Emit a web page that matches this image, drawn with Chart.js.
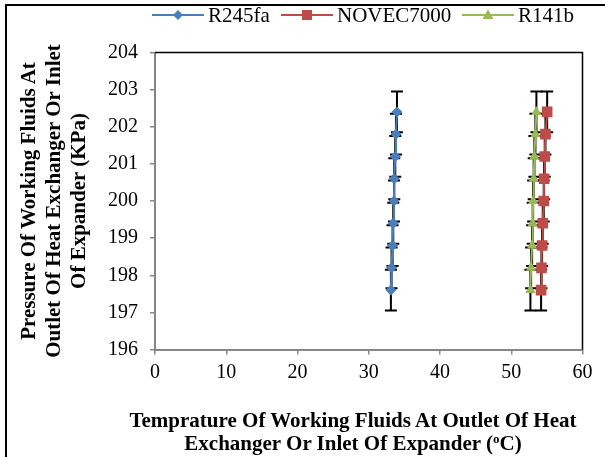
<!DOCTYPE html>
<html>
<head>
<meta charset="utf-8">
<script src="https://cdn.jsdelivr.net/npm/chart.js@4.4.0/dist/chart.umd.min.js"></script>
<style>
    body { margin: 0; background: #fff; }
    #wrap { position: relative; width: 605px; height: 457px; overflow: hidden; font-family: 'Liberation Serif', serif; }
    #frame { position: absolute; left: 5px; top: 4px; width: 700px; height: 600px; border-left: 2px solid #000; border-top: 2px solid #000; }
    #chartCanvas { position: absolute; left: 0; top: 0; }
    #legend { position: absolute; top: 4px; left: 0; width: 605px; height: 22px; font-size: 21px; color: #000; font-family: 'Liberation Serif', serif; }
    .item { position: absolute; top: 0; height: 22px; line-height: 22px; white-space: nowrap; }
    .item svg { position: absolute; left: 0; top: 0; }
    .item span { position: absolute; top: 0; }
    .ytitle { position: absolute; left: 53px; top: 201px; width: 420px; transform: translate(-50%, -50%) rotate(-90deg); text-align: center; font-weight: bold; font-size: 21px; line-height: 25px; }
    .xtitle { position: absolute; left: 353px; top: 409px; width: 560px; transform: translateX(-50%); text-align: center; font-weight: bold; font-size: 21px; line-height: 23px; }
    .deg { font-size: 13px; position: relative; top: -7px; }
</style>
</head>
<body>
<div id="wrap">
    <canvas id="chartCanvas" width="605" height="457"></canvas>
    <div id="frame"></div>
    <div id="legend"></div>
    <div class="ytitle">Pressure Of Working Fluids At<br>Outlet Of Heat Exchanger Or Inlet<br>Of Expander (KPa)</div>
    <div class="xtitle">Temprature Of Working Fluids At Outlet Of Heat<br>Exchanger Or Inlet Of Expander (<span class="deg">o</span>C)</div>
</div>
<script>
// values
const seriesNames = ['R245fa', 'NOVEC7000', 'R141b'];
const pressure = [197.6, 198.2, 198.8, 199.4, 200.0, 200.6, 201.2, 201.8, 202.4];
const tempR245fa = [33.11, 33.2, 33.34, 33.44, 33.54, 33.58, 33.72, 33.82, 33.96];
const tempNovec = [54.19, 54.24, 54.33, 54.42, 54.56, 54.61, 54.7, 54.8, 55.04];
const tempR141b = [52.69, 52.79, 52.93, 53.01, 53.07, 53.15, 53.25, 53.39, 53.53];
const pressureError = [0.55, 0.55, 0.55, 0.55, 0.55, 0.55, 0.55, 0.55, 0.55];
const xTicks = [0, 10, 20, 30, 40, 50, 60];
const yTicks = [196, 197, 198, 199, 200, 201, 202, 203, 204];

const colors = ['#4A7EBB', '#BE4B48', '#98B954'];
const markers = ['rectRot', 'rect', 'triangle'];
const markerSizes = [5.5, 7.5, 6];

function toPoints(temps) {
    return temps.map((t, i) => ({ x: t, y: pressure[i] }));
}

// black vertical error bars, drawn under the markers
const errorBars = {
    id: 'errorBars',
    beforeDatasetsDraw(chart) {
        const ctx = chart.ctx;
        const xs = chart.scales.x, ys = chart.scales.y;
        ctx.save();
        ctx.strokeStyle = '#000';
        ctx.lineWidth = 2;
        chart.data.datasets.forEach(ds => {
            ds.data.forEach((p, i) => {
                const px = xs.getPixelForValue(p.x);
                const top = ys.getPixelForValue(p.y + pressureError[i]);
                const bot = ys.getPixelForValue(p.y - pressureError[i]);
                ctx.beginPath();
                ctx.moveTo(px, top); ctx.lineTo(px, bot);
                ctx.moveTo(px - 6, top); ctx.lineTo(px + 6, top);
                ctx.moveTo(px - 6, bot); ctx.lineTo(px + 6, bot);
                ctx.stroke();
            });
        });
        ctx.restore();
    }
};

// dark border on top and right of the plot area
const plotBorder = {
    id: 'plotBorder',
    afterDraw(chart) {
        const a = chart.chartArea, ctx = chart.ctx;
        ctx.save();
        ctx.strokeStyle = '#000';
        ctx.lineWidth = 1.5;
        ctx.beginPath();
        ctx.moveTo(a.left, a.top);
        ctx.lineTo(a.right, a.top);
        ctx.lineTo(a.right, a.bottom);
        ctx.stroke();
        ctx.restore();
    }
};

const allTemps = [tempR245fa, tempNovec, tempR141b];
const datasets = seriesNames.map((name, k) => ({
    label: name,
    data: toPoints(allTemps[k]),
    showLine: true,
    borderColor: colors[k],
    backgroundColor: colors[k],
    borderWidth: 2,
    pointStyle: markers[k],
    pointRadius: markerSizes[k],
    pointBorderWidth: 0,
    pointBackgroundColor: colors[k],
}));

const tickFont = { family: 'Liberation Serif', size: 20 };

new Chart(document.getElementById('chartCanvas').getContext('2d'), {
    type: 'scatter',
    data: { datasets: datasets },
    options: {
        responsive: false,
        animation: false,
        layout: { padding: { left: 95, right: 22.5, top: 52.5, bottom: 0 } },
        plugins: { legend: { display: false }, tooltip: { enabled: false } },
        scales: {
            x: {
                type: 'linear', min: 0, max: 60,
                afterBuildTicks: s => { s.ticks = xTicks.map(v => ({ value: v })); },
                afterFit: s => { s.height = 107.5; },
                ticks: { color: '#000', font: tickFont, padding: 6, maxRotation: 0 },
                grid: { drawOnChartArea: false, drawTicks: true, tickLength: 5, color: '#868686', lineWidth: 1.5 },
                border: { color: '#868686', width: 2 },
            },
            y: {
                type: 'linear', min: 196, max: 204,
                afterBuildTicks: s => { s.ticks = yTicks.map(v => ({ value: v })); },
                afterFit: s => { s.width = 60; },
                ticks: { color: '#000', font: tickFont, padding: 12 },
                grid: { drawOnChartArea: false, drawTicks: true, tickLength: 5, color: '#868686', lineWidth: 1.5 },
                border: { color: '#868686', width: 2 },
            },
        },
    },
    plugins: [errorBars, plotBorder],
});

// legend: line with marker, then the series name
const legendX = [152, 281, 462];
const legend = document.getElementById('legend');
seriesNames.forEach((name, k) => {
    const c = colors[k];
    let mark;
    if (k === 0) mark = `<polygon points="26,6 31,11 26,16 21,11" fill="${c}"/>`;
    else if (k === 1) mark = `<rect x="21" y="6" width="10" height="10" fill="${c}"/>`;
    else mark = `<polygon points="26,5.5 31.5,15 20.5,15" fill="${c}"/>`;
    const item = document.createElement('div');
    item.className = 'item';
    item.style.left = legendX[k] + 'px';
    item.innerHTML = `<svg width="52" height="22"><line x1="0" y1="11" x2="52" y2="11" stroke="${c}" stroke-width="2"/>${mark}</svg><span style="left:56px">${name}</span>`;
    legend.appendChild(item);
});
</script>
</body>
</html>
